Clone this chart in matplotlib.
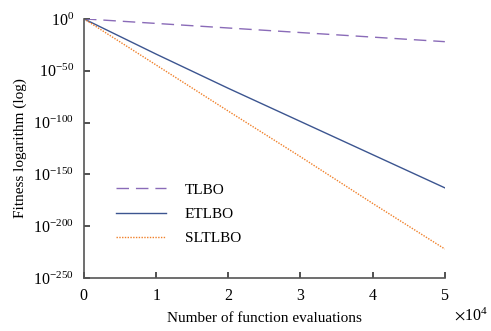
import numpy as np
import matplotlib
matplotlib.use('Agg')
from matplotlib import pyplot as plt
from matplotlib.ticker import LogFormatterMathtext, ScalarFormatter, NullLocator

plt.rcParams['font.family'] = 'Liberation Serif'
plt.rcParams['mathtext.fontset'] = 'stix'

# Data (log10 of fitness)
evals = [0, 10000, 20000, 30000, 40000, 50000]
tlbo_log = [0, -4.4, -8.8, -13.2, -17.6, -22]
etlbo_log = [0, -34, -67, -99, -131, -163]
sltlbo_log = [0, -44.5, -89, -133, -178, -222]
y_ticks = [0, -50, -100, -150, -200, -250]
x_ticks = [0, 10000, 20000, 30000, 40000, 50000]

fig = plt.figure(figsize=(4.91, 3.31), dpi=100)
ax = fig.add_axes([0.171, 0.160, 0.735, 0.783])

ax.plot(evals, 10.0 ** np.array(tlbo_log), color='#8a6bb8', lw=1.0,
        dashes=(9, 5), label='TLBO')
ax.plot(evals, 10.0 ** np.array(etlbo_log), color='#3c5590', lw=1.0,
        label='ETLBO')
ax.plot(evals, 10.0 ** np.array(sltlbo_log), color='#f0802a', lw=1.0,
        ls=(0, (1, 1)), label='SLTLBO')

ax.set_yscale('log')
ax.set_ylim(1e-250, 1)
ax.set_xlim(0, 50000)
ax.set_yticks([10.0 ** t for t in y_ticks])
ax.yaxis.set_major_formatter(LogFormatterMathtext())
ax.yaxis.set_minor_locator(NullLocator())
ax.set_xticks(x_ticks)
fmt = ScalarFormatter(useMathText=True)
fmt.set_powerlimits((0, 0))
ax.xaxis.set_major_formatter(fmt)
ax.xaxis.offsetText.set_fontsize(11.5)
ax.xaxis.offsetText.set_position((1.025, 0))
ax.xaxis.offsetText.set_horizontalalignment('left')

for s in ['top', 'right']:
    ax.spines[s].set_visible(False)
for s in ['left', 'bottom']:
    ax.spines[s].set_color('#555555')
    ax.spines[s].set_linewidth(1.2)
ax.tick_params(direction='in', length=4, width=1.2, color='#333333',
               labelsize=11.5, pad=7)

ax.set_xlabel('Number of function evaluations', fontsize=11, labelpad=6)
ax.set_ylabel('Fitness logarithm (log)', fontsize=11, labelpad=5)

ax.legend(loc='upper left', bbox_to_anchor=(0.05, 0.42), frameon=False,
          fontsize=11, handlelength=3.3, handletextpad=1.2,
          labelspacing=0.7)

fig.savefig('out.png', dpi=100)
